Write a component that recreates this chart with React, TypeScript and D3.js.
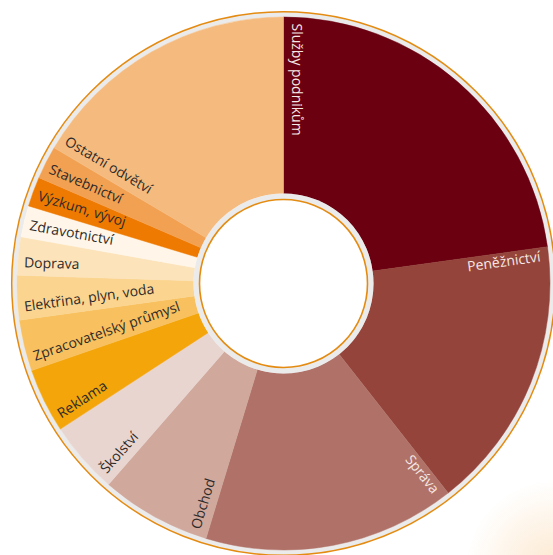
import React, { useRef, useEffect } from "react"
import * as d3 from "d3"

// share of each branch (%), clockwise from 12 o'clock
const categories = [
  "Služby podnikům",
  "Peněžnictví",
  "Správa",
  "Obchod",
  "Školství",
  "Reklama",
  "Zpracovatelský průmysl",
  "Elektřina, plyn, voda",
  "Doprava",
  "Zdravotnictví",
  "Výzkum, vývoj",
  "Stavebnictví",
  "Ostatní odvětví",
]
const values = [22.8, 16.6, 15.3, 6.7, 4.4, 3.9, 3.1, 2.7, 2.3, 1.9, 1.8, 2.0, 16.5]
const colors = [
  "#6b0010",
  "#94443a",
  "#b07268",
  "#d0a89c",
  "#e9d5d0",
  "#f3a50a",
  "#f8c05e",
  "#fbd58f",
  "#fce3ba",
  "#fff6e9",
  "#ee7a02",
  "#f2a152",
  "#f5bb7e",
]
const lightLabels = ["Služby podnikům", "Peněžnictví", "Správa"]

const W = 553
const H = 555
const cx = 283.5
const cy = 283.5
const rInner = 90
const rOuter = 266.5

function App() {
  const ref = useRef(null)

  useEffect(() => {
    const svg = d3.select(ref.current)
    svg.selectAll("*").remove()

    const defs = svg.append("defs")
    const glow = defs
      .append("radialGradient")
      .attr("id", "glow")
      .attr("cx", "50%")
      .attr("cy", "50%")
      .attr("r", "50%")
    glow.append("stop").attr("offset", "0%").attr("stop-color", "#fbe2c2").attr("stop-opacity", 0.8)
    glow.append("stop").attr("offset", "100%").attr("stop-color", "#fbe2c2").attr("stop-opacity", 0)

    svg.append("rect").attr("width", W).attr("height", H).attr("fill", "#ffffff")
    svg
      .append("circle")
      .attr("cx", 555)
      .attr("cy", 570)
      .attr("r", 90)
      .attr("fill", "url(#glow)")

    const g = svg.append("g").attr("transform", `translate(${cx},${cy})`)

    // outer rim: grey band + orange line
    g.append("circle").attr("r", 269).attr("fill", "none").attr("stroke", "#ebebeb").attr("stroke-width", 5)
    g.append("circle").attr("r", 271.8).attr("fill", "none").attr("stroke", "#e48b12").attr("stroke-width", 1.5)

    const pie = d3
      .pie<number>()
      .sort(null)
      .startAngle(0)
      .endAngle(2 * Math.PI)
    const arcs = pie(values)
    const arc = d3.arc<d3.PieArcDatum<number>>().innerRadius(rInner).outerRadius(rOuter)

    g.selectAll("path.slice")
      .data(arcs)
      .join("path")
      .attr("class", "slice")
      .attr("d", arc)
      .attr("fill", (d, i) => colors[i])
      .attr("stroke", (d, i) => colors[i])
      .attr("stroke-width", 0.5)

    // inner hole
    g.append("circle").attr("r", rInner).attr("fill", "#ebebeb")
    g.append("circle").attr("r", 84).attr("fill", "#ffffff").attr("stroke", "#e48b12").attr("stroke-width", 1.6)

    // labels along the starting edge of each slice
    g.selectAll("text.lbl")
      .data(arcs)
      .join("text")
      .attr("class", "lbl")
      .attr("transform", (d) => {
        const deg = (d.startAngle * 180) / Math.PI
        if (deg > 0.5 && deg < 180) {
          return `rotate(${deg - 90}) translate(258, 13.5)`
        }
        return `rotate(${deg + 90}) translate(-260, -8)`
      })
      .attr("text-anchor", (d) => {
        const deg = (d.startAngle * 180) / Math.PI
        return deg > 0.5 && deg < 180 ? "end" : "start"
      })
      .attr("font-family", "'Open Sans', sans-serif")
      .attr("font-size", 14)
      .attr("fill", (d, i) => (lightLabels.includes(categories[i]) ? "#f6e8e5" : "#2e2a2a"))
      .text((d, i) => categories[i])
  }, [])

  return (
    <div style={{ position: "absolute", left: 0, top: 0 }}>
      <svg ref={ref} width={W} height={H} style={{ display: "block" }}></svg>
    </div>
  )
}

export default App
